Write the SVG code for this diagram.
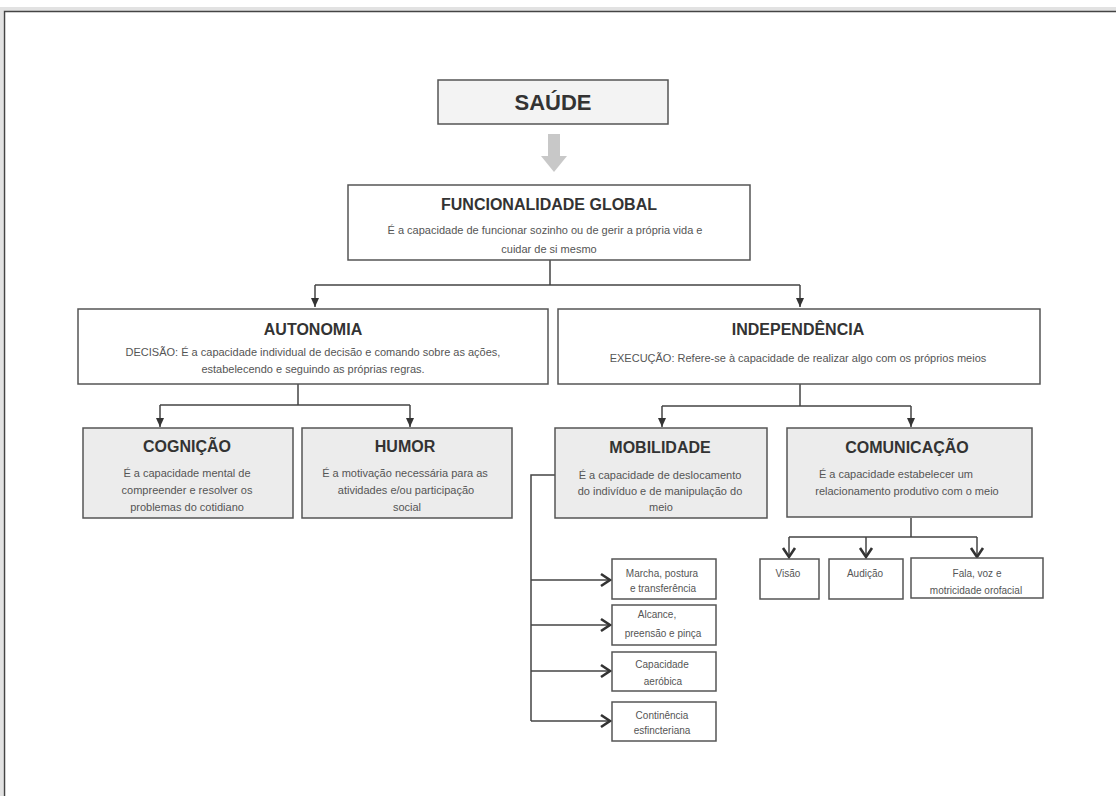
<svg xmlns="http://www.w3.org/2000/svg" width="1116" height="796" viewBox="0 0 1116 796">
<style>
.box{stroke:#555;stroke-width:1.5}
.w{fill:#fff}.g1{fill:#f3f3f3}.g2{fill:#ececec}
.t{font-family:"Liberation Sans",Arial,sans-serif;font-weight:bold;fill:#333;text-anchor:middle}
.d{font-family:"Liberation Sans",Arial,sans-serif;font-size:11px;fill:#555;text-anchor:middle}
.s{font-family:"Liberation Sans",Arial,sans-serif;font-size:10px;fill:#555;text-anchor:middle}
.ln{fill:none;stroke:#444;stroke-width:1.5}
</style>
<defs>
<marker id="tri" markerUnits="userSpaceOnUse" markerWidth="10" markerHeight="10" viewBox="0 0 10 10" refX="9" refY="5" orient="auto">
<path d="M0,1 L9,5 L0,9 Z" fill="#333"/>
</marker>
<marker id="chev" markerUnits="userSpaceOnUse" markerWidth="14" markerHeight="16" viewBox="0 0 14 16" refX="12" refY="8" orient="auto">
<path d="M2,2 L11,8 L2,14" fill="none" stroke="#333" stroke-width="2.6"/>
</marker>
</defs>
<rect width="1116" height="796" fill="#fff"/>
<g id="frame">
<path d="M1.5,796 V9 H1116" fill="none" stroke="#e2e2e2" stroke-width="4"/>
<path d="M4.5,796 V11.5 H1116" fill="none" stroke="#444" stroke-width="1.5"/>
</g>
<g id="connectors">
<path d="M550,260 V285 M315,285 H800" class="ln"/>
<path d="M315,285 V307" class="ln" marker-end="url(#tri)"/>
<path d="M800,285 V307" class="ln" marker-end="url(#tri)"/>
<path d="M298,384 V405 M160,405 H410" class="ln"/>
<path d="M160,405 V427" class="ln" marker-end="url(#tri)"/>
<path d="M410,405 V427" class="ln" marker-end="url(#tri)"/>
<path d="M800,384 V406 M662,406 H911" class="ln"/>
<path d="M662,406 V427" class="ln" marker-end="url(#tri)"/>
<path d="M911,406 V427" class="ln" marker-end="url(#tri)"/>
<path d="M555,475 H531 V721" class="ln"/>
<path d="M531,580 H611" class="ln" marker-end="url(#chev)"/>
<path d="M531,625 H611" class="ln" marker-end="url(#chev)"/>
<path d="M531,671 H611" class="ln" marker-end="url(#chev)"/>
<path d="M531,721 H611" class="ln" marker-end="url(#chev)"/>
<path d="M911,518 V537 M789,537 H977" class="ln"/>
<path d="M789,537 V558" class="ln" marker-end="url(#chev)"/>
<path d="M866,537 V558" class="ln" marker-end="url(#chev)"/>
<path d="M977,537 V558" class="ln" marker-end="url(#chev)"/>
<path d="M548,134 H560 V156 H567 L554,172 L541,156 H548 Z" fill="#c8c8c8"/>
</g>
<g id="saude">
<rect x="438" y="80" width="230" height="44" class="box g1"/>
<text x="553" y="110" class="t" font-size="22">SAÚDE</text>
</g>
<g id="funcionalidade">
<rect x="348" y="185" width="402" height="75" class="box w"/>
<text x="549" y="210" class="t" font-size="16">FUNCIONALIDADE GLOBAL</text>
<text x="545" y="234" class="d">É a capacidade de funcionar sozinho ou de gerir a própria vida e</text>
<text x="549" y="253" class="d">cuidar de si mesmo</text>
</g>
<g id="autonomia">
<rect x="78" y="309" width="470" height="75" class="box w"/>
<text x="313" y="335" class="t" font-size="16">AUTONOMIA</text>
<text x="313" y="356" class="d">DECISÃO: É a capacidade individual de decisão e comando sobre as ações,</text>
<text x="313" y="373" class="d">estabelecendo e seguindo as próprias regras.</text>
</g>
<g id="independencia">
<rect x="558" y="309" width="482" height="75" class="box w"/>
<text x="798" y="335" class="t" font-size="16">INDEPENDÊNCIA</text>
<text x="798" y="362" class="d">EXECUÇÃO: Refere-se à capacidade de realizar algo com os próprios meios</text>
</g>
<g id="cognicao">
<rect x="83" y="428" width="210" height="90" class="box g2"/>
<text x="187" y="452" class="t" font-size="16">COGNIÇÃO</text>
<text x="187" y="477" class="d">É a capacidade mental de</text>
<text x="187" y="494" class="d">compreender e resolver os</text>
<text x="187" y="511" class="d">problemas do cotidiano</text>
</g>
<g id="humor">
<rect x="302" y="428" width="210" height="90" class="box g2"/>
<text x="405" y="452" class="t" font-size="16">HUMOR</text>
<text x="405" y="477" class="d">É a motivação necessária para as</text>
<text x="406" y="494" class="d">atividades e/ou participação</text>
<text x="407" y="511" class="d">social</text>
</g>
<g id="mobilidade">
<rect x="555" y="428" width="212" height="90" class="box g2"/>
<text x="660" y="453" class="t" font-size="16">MOBILIDADE</text>
<text x="660" y="479" class="d">É a capacidade de deslocamento</text>
<text x="660" y="495" class="d">do indivíduo e de manipulação do</text>
<text x="661" y="511" class="d">meio</text>
</g>
<g id="comunicacao">
<rect x="787" y="428" width="245" height="89" class="box g2"/>
<text x="907" y="453" class="t" font-size="16">COMUNICAÇÃO</text>
<text x="896" y="478" class="d">É a capacidade estabelecer um</text>
<text x="907" y="495" class="d">relacionamento produtivo com o meio</text>
</g>
<g id="marcha">
<rect x="612" y="559" width="104" height="40" class="box w"/>
<text x="662" y="577" class="s">Marcha, postura</text>
<text x="663" y="592" class="s">e transferência</text>
</g>
<g id="alcance">
<rect x="612" y="605" width="104" height="40" class="box w"/>
<text x="657" y="618" class="s">Alcance,</text>
<text x="663" y="637" class="s">preensão e pinça</text>
</g>
<g id="capacidade">
<rect x="612" y="652" width="104" height="39" class="box w"/>
<text x="662" y="668" class="s">Capacidade</text>
<text x="663" y="685" class="s">aeróbica</text>
</g>
<g id="continencia">
<rect x="612" y="702" width="104" height="39" class="box w"/>
<text x="662" y="719" class="s">Continência</text>
<text x="662" y="734" class="s">esfincteriana</text>
</g>
<g id="visao">
<rect x="760" y="559" width="59" height="40" class="box w"/>
<text x="788" y="577" class="s">Visão</text>
</g>
<g id="audicao">
<rect x="829" y="559" width="74" height="40" class="box w"/>
<text x="865" y="577" class="s">Audição</text>
</g>
<g id="fala">
<rect x="911" y="558" width="132" height="40" class="box w"/>
<text x="977" y="577" class="s">Fala, voz e</text>
<text x="976" y="594" class="s">motricidade orofacial</text>
</g>
</svg>
